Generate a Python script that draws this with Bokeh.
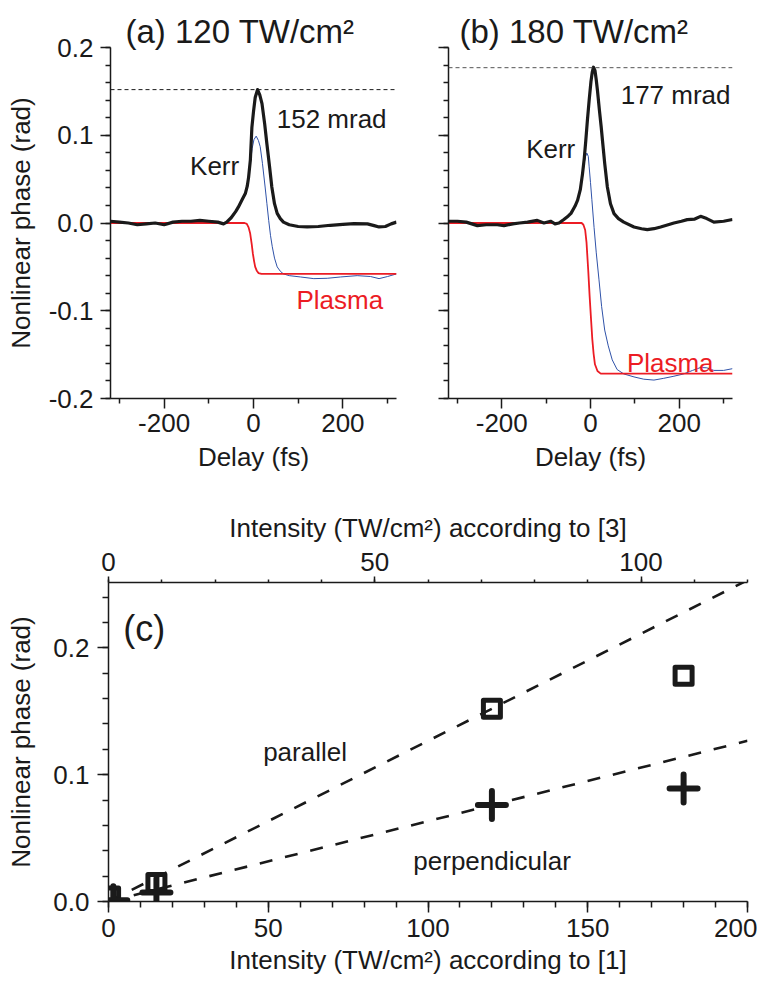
from bokeh.plotting import figure
from bokeh.models import (Range1d, FixedTicker, PrintfTickFormatter, Label, Span, LinearAxis,
                          CustomJSTickFormatter, Title)
from bokeh.layouts import column, row
from bokeh.embed import file_html
from bokeh.resources import INLINE

FONT = "Liberation Sans"
INK = "#1a1a1a"
RED = "#ec1c24"
BLUE = "#2f52a8"

# ---------------- panel (a): 120 TW/cm^2 ----------------
a_kerr_t = [-320, -300, -280, -260, -240, -220, -200, -180, -160, -140, -120, -100, -80, -67,
            -60, -50, -40, -34, -25, -18, -14, -11, -7, -3.6, 0, 3.8, 9, 14, 19, 25, 30, 36, 41,
            47, 53, 60, 67, 80, 100, 120, 145, 172, 200, 225, 255, 270, 281, 295, 308, 320]
a_kerr_v = [0.002, 0.001, 0.0, -0.002, -0.001, 0.0, -0.002, 0.001, 0.002, 0.002, 0.003, 0.002,
            0.001, -0.001, 0.001, 0.006, 0.013, 0.018, 0.027, 0.034, 0.042, 0.052, 0.072, 0.109,
            0.127, 0.143, 0.152, 0.146, 0.136, 0.113, 0.090, 0.064, 0.041, 0.022, 0.011, 0.005,
            0.001, -0.002, -0.004, -0.0045, -0.004, -0.0026, -0.0015, -0.0007, -0.001, -0.003,
            -0.0045, -0.004, -0.001, 0.001]
a_blue_t = [-320, -300, -280, -260, -240, -220, -200, -180, -160, -140, -120, -100, -80, -67,
            -60, -50, -40, -34, -25, -18, -14, -11, -7, -3, 1, 6, 11, 15, 20, 26, 30, 34, 38,
            42, 47, 53, 60, 67, 80, 105, 135, 165, 195, 232, 262, 281, 300, 320]
a_blue_v = [0.002, 0.001, 0.0, -0.002, -0.001, 0.0, -0.002, 0.001, 0.002, 0.002, 0.003, 0.002,
            0.001, -0.001, 0.001, 0.006, 0.013, 0.018, 0.027, 0.034, 0.042, 0.052, 0.068, 0.085,
            0.095, 0.099, 0.094, 0.087, 0.068, 0.041, 0.022, 0.003, -0.014, -0.027, -0.040,
            -0.050, -0.055, -0.058, -0.060, -0.0615, -0.0634, -0.063, -0.0615, -0.060, -0.061,
            -0.0634, -0.061, -0.058]
a_plasma_t = [-320, -20, -15, -11, -7.4, -4, -1.4, 1.5, 3.8, 7, 11, 18, 320]
a_plasma_v = [0.0, 0.0, -0.001, -0.005, -0.012, -0.024, -0.035, -0.044, -0.050, -0.054, -0.057,
              -0.058, -0.058]
a_peak = 0.152

# ---------------- panel (b): 180 TW/cm^2 ----------------
b_kerr_t = [-320, -300, -280, -255, -235, -210, -195, -175, -160, -142, -120, -105, -90, -80, -71,
            -60, -50, -44, -35, -29, -23, -18, -14, -10.6, -7, -3, 1, 4, 6.7, 10, 13, 15.7, 20,
            24, 27, 32, 38, 45, 53, 63, 75, 98, 115, 128, 143, 158, 175, 188, 205, 218, 235, 248,
            262, 278, 300, 320]
b_kerr_v = [0.002, 0.002, 0.001, -0.003, -0.002, -0.002, -0.003, -0.001, 0.0, 0.001, 0.003, 0.0,
            0.002, -0.001, 0.0, 0.004, 0.008, 0.011, 0.019, 0.026, 0.038, 0.056, 0.074, 0.094,
            0.117, 0.140, 0.161, 0.172, 0.1775, 0.174, 0.163, 0.151, 0.129, 0.110, 0.094, 0.068,
            0.041, 0.022, 0.0107, 0.005, 0.001, -0.0045, -0.0065, -0.0076, -0.0065, -0.0045,
            -0.002, 0.0, 0.002, 0.0038, 0.0045, 0.0076, 0.005, 0.001, 0.002, 0.004]
b_blue_t = [-320, -300, -280, -255, -235, -210, -195, -175, -160, -142, -120, -105, -90, -80, -71,
            -60, -50, -44, -35, -29, -25.6, -18, -14.4, -11, -8.3, -5, -3, 0, 3, 8, 13, 19, 25,
            32, 40, 49, 60, 75, 98, 120, 143, 165, 188, 210, 230, 248, 262, 278, 300, 320]
b_blue_v = [0.002, 0.002, 0.001, -0.003, -0.002, -0.002, -0.003, -0.001, 0.0, 0.001, 0.003, 0.0,
            0.002, -0.001, 0.0, 0.004, 0.008, 0.011, 0.019, 0.026, 0.033, 0.052, 0.068, 0.076,
            0.0797, 0.076, 0.064, 0.046, 0.027, -0.005, -0.034, -0.064, -0.095, -0.122, -0.140,
            -0.156, -0.167, -0.172, -0.1754, -0.178, -0.179, -0.177, -0.1746, -0.172, -0.168,
            -0.1647, -0.165, -0.168, -0.168, -0.166]
b_plasma_t = [-320, -20, -16, -12, -9, -5, -2, 1.5, 4, 7, 10, 15.7, 23, 320]
b_plasma_v = [0.0, 0.0, -0.002, -0.008, -0.022, -0.055, -0.083, -0.112, -0.132, -0.149, -0.161,
              -0.1686, -0.1716, -0.1716]
b_peak = 0.177

# ---------------- panel (c) ----------------
c_par_I = [0.5, 15, 120, 180]
c_par_phi = [0.004, 0.0145, 0.152, 0.178]
c_perp_I = [1.5, 15, 120, 180]
c_perp_phi = [0.001, 0.007, 0.076, 0.089]
fit_I = [0, 200]
fit_par = [0.0, 0.2533]
fit_perp = [0.0, 0.1267]


def style_axis(ax, major_out, minor_out, labelsize="26px"):
    ax.axis_line_color = INK
    ax.axis_line_width = 1.5
    ax.major_tick_line_color = INK
    ax.minor_tick_line_color = INK
    ax.major_tick_line_width = 1.5
    ax.minor_tick_line_width = 1.5
    ax.major_tick_in = 0
    ax.minor_tick_in = 0
    ax.major_tick_out = major_out
    ax.minor_tick_out = minor_out
    ax.major_label_text_font = FONT
    ax.major_label_text_font_size = labelsize
    ax.major_label_text_color = INK
    ax.axis_label_text_font = FONT
    ax.axis_label_text_font_size = "26px"
    ax.axis_label_text_font_style = "normal"
    ax.axis_label_text_color = INK


def time_panel(left_border, frame_w, show_ylabels, title, title_offset):
    p = figure(frame_width=frame_w, frame_height=351,
               min_border_left=left_border, min_border_right=20,
               min_border_top=47, min_border_bottom=84,
               x_range=Range1d(-320, 320), y_range=Range1d(-0.2, 0.2),
               output_backend="svg", toolbar_location=None, tools="")
    p.title = Title(text=title, text_font=FONT, text_font_size="33px",
                    text_font_style="normal", text_color=INK, align="left",
                    offset=title_offset, standoff=-4)
    p.xgrid.grid_line_color = None
    p.ygrid.grid_line_color = None
    p.outline_line_color = None
    xa = p.xaxis[0]
    ya = p.yaxis[0]
    xa.ticker = FixedTicker(ticks=[-200, 0, 200], minor_ticks=[-300, -100, 100, 300])
    xa.formatter = PrintfTickFormatter(format="%d")
    ya.ticker = FixedTicker(ticks=[-0.2, -0.1, 0.0, 0.1, 0.2],
                            minor_ticks=[round(-0.2 + 0.02 * i, 2) for i in range(21)])
    style_axis(xa, 10, 5)
    style_axis(ya, 10, 5)
    xa.axis_label = "Delay (fs)"
    xa.major_label_standoff = 5
    xa.axis_label_standoff = 7
    if show_ylabels:
        ya.formatter = PrintfTickFormatter(format="%.1f")
        ya.axis_label = "Nonlinear phase (rad)"
        ya.major_label_standoff = 7
        ya.axis_label_standoff = 10
    else:
        ya.formatter = CustomJSTickFormatter(code="return ''")
        ya.major_label_standoff = 0
    return p


def add_text(p, x, y, txt, size, color=INK):
    p.add_layout(Label(x=x, y=y, text=txt, text_font=FONT, text_font_size=size,
                       text_color=color, text_align="left", text_baseline="alphabetic"))


# panel a
pa = time_panel(110, 286, True, "(a) 120 TW/cm²", 15)
pa.add_layout(Span(location=a_peak, dimension="width", line_color=INK, line_width=1,
                   line_dash="4 3"))
pa.line(a_blue_t, a_blue_v, line_color=BLUE, line_width=1)
pa.line(a_plasma_t, a_plasma_v, line_color=RED, line_width=1.8)
pa.line(a_kerr_t, a_kerr_v, line_color=INK, line_width=3.2, line_join="round")
add_text(pa, -142, 0.0646, "Kerr", "26px")
add_text(pa, 52, 0.119, "152 mrad", "26px")
add_text(pa, 96, -0.088, "Plasma", "26px", RED)

# panel b
pb = time_panel(32, 284, False, "(b) 180 TW/cm²", 11)
pb.add_layout(Span(location=b_peak, dimension="width", line_color="#555555", line_width=1,
                   line_dash="4 3"))
pb.line(b_blue_t, b_blue_v, line_color=BLUE, line_width=1)
pb.line(b_plasma_t, b_plasma_v, line_color=RED, line_width=1.8)
pb.line(b_kerr_t, b_kerr_v, line_color=INK, line_width=3.2, line_join="round")
add_text(pb, -145, 0.0847, "Kerr", "26px")
add_text(pb, 68, 0.1454, "177 mrad", "26px")
add_text(pb, 82, -0.1595, "Plasma", "26px", RED)

# panel c
pc = figure(frame_width=639, frame_height=319,
            min_border_left=108, min_border_right=10,
            min_border_top=100, min_border_bottom=82,
            x_range=Range1d(0, 200), y_range=Range1d(0, 0.2515),
            output_backend="svg", toolbar_location=None, tools="")
pc.xgrid.grid_line_color = None
pc.ygrid.grid_line_color = None
pc.outline_line_color = None

bx = pc.xaxis[0]
ly = pc.yaxis[0]

pc.extra_x_ranges = {"top": Range1d(0, 120)}
top = LinearAxis(x_range_name="top",
                 ticker=FixedTicker(ticks=[0, 50, 100], minor_ticks=list(range(0, 121, 10))))
pc.add_layout(top, "above")
style_axis(top, 6, 3)
top.major_label_standoff = 6
top.axis_label = "Intensity (TW/cm²) according to [3]"
top.axis_label_standoff = 7

bx.ticker = FixedTicker(ticks=[0, 50, 100, 150, 200], minor_ticks=list(range(0, 201, 10)))
style_axis(bx, 11, 6)
bx.major_label_standoff = 6
bx.axis_label = "Intensity (TW/cm²) according to [1]"
bx.axis_label_standoff = 5

ly.ticker = FixedTicker(ticks=[0.0, 0.1, 0.2],
                        minor_ticks=[round(0.02 * i, 2) for i in range(13)])
ly.formatter = PrintfTickFormatter(format="%.1f")
style_axis(ly, 11, 6)
ly.major_label_standoff = 8
ly.axis_label = "Nonlinear phase (rad)"
ly.axis_label_standoff = 14

pc.line(fit_I, fit_par, line_color=INK, line_width=2.6, line_dash="13 13")
pc.line(fit_I, fit_perp, line_color=INK, line_width=2.6, line_dash="13 13")
pc.scatter(c_par_I, c_par_phi, marker="square", size=17, line_width=5, line_color=INK,
           fill_alpha=0, line_join="round")
pc.scatter(c_perp_I, c_perp_phi, marker="cross", size=28, line_width=6, line_color=INK,
           line_cap="round")
add_text(pc, 4.6, 0.2152, "(c)", "36px")
add_text(pc, 48.4, 0.118, "parallel", "26px")
add_text(pc, 95.4, 0.032, "perpendicular", "26px")

layout = column(row(pa, pb), pc)
open("out.html", "w").write(file_html(layout, INLINE))
